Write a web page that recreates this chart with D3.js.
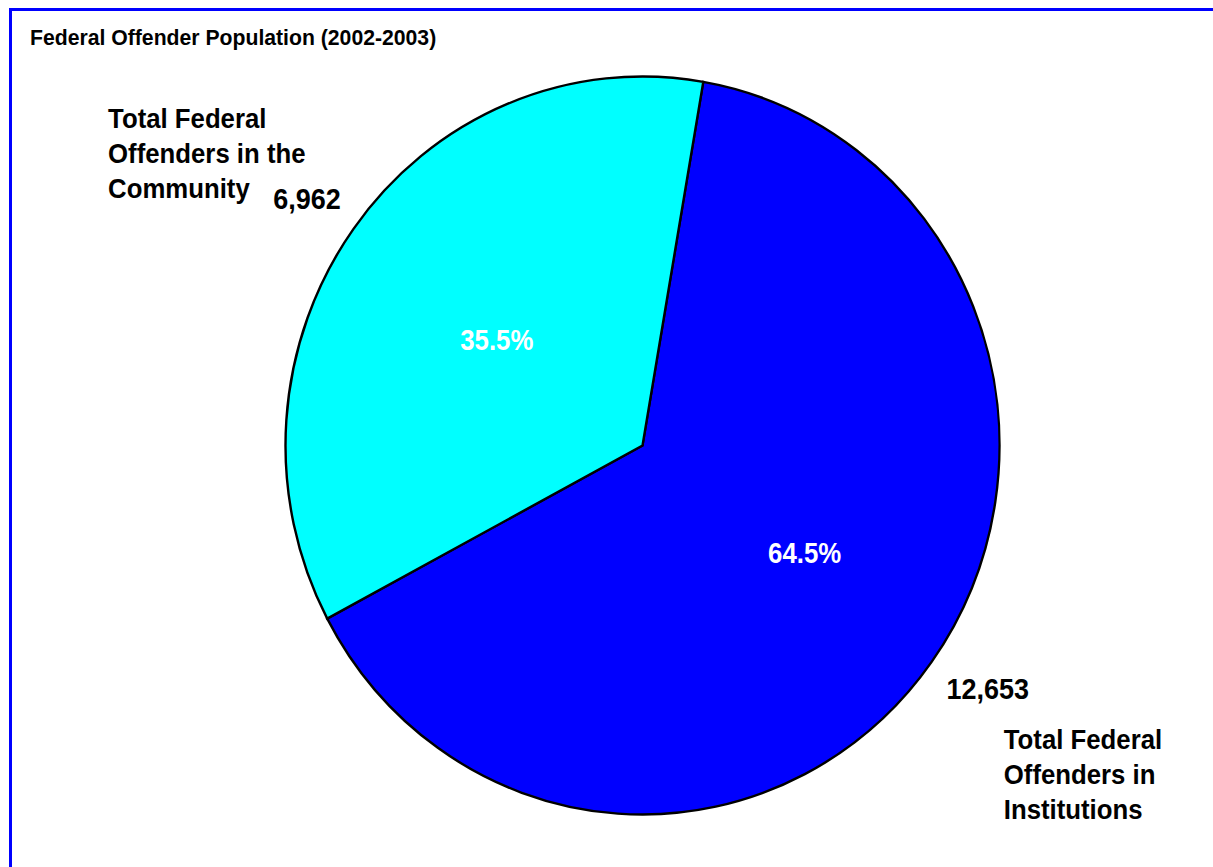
<!DOCTYPE html>
<html>
<head>
<meta charset="utf-8">
<script src="https://cdn.jsdelivr.net/npm/d3@7"></script>
<style>
  html, body { margin: 0; padding: 0; background: #fff; overflow: hidden; }
  text { font-family: "Liberation Sans", Arial, sans-serif; font-weight: bold; }
</style>
</head>
<body>
<svg id="chart" width="1213" height="867"></svg>
<script>
// ---- data ----
const title = "Federal Offender Population (2002-2003)";
const categories = ["Total Federal Offenders in Institutions", "Total Federal Offenders in the Community"];
const categoryLines = [
  ["Total Federal", "Offenders in", "Institutions"],
  ["Total Federal", "Offenders in the", "Community"]
];
const values = [12653, 6962];
const sliceColors = ["#0000ff", "#00ffff"];

// ---- layout ----
const W = 1213, H = 867;
const cx = 642.5, cy = 445.5;
const r = 357;            // horizontal radius
const yScale = 369 / 357; // pie is drawn slightly taller than wide
const startDeg = 9.8;
const pctRadius = [0.54, 0.49];
const pctNudge = [[6, -10], [-4, 0]];
const valueRadius = [1.17, 1.16];
const valueNudge = [[7, -11], [0, 4]];
// category-name block offsets from each value label (left x, first baseline)
const nameOffset = [[16, 50], [-199, -81]];
const lineGap = 35;

const svg = d3.select("#chart");
svg.append("rect").attr("width", W).attr("height", H).attr("fill", "#fff");

// outer frame
svg.append("rect")
  .attr("x", 10.5).attr("y", 9.5)
  .attr("width", W + 20).attr("height", H + 20)
  .attr("fill", "none").attr("stroke", "#0000ff").attr("stroke-width", 3);

// title
svg.append("text")
  .attr("x", 30).attr("y", 45)
  .attr("font-size", 21.2)
  .attr("fill", "#000")
  .text(title);

const total = d3.sum(values);
const start = startDeg * Math.PI / 180;
const pie = d3.pie().sort(null).value(d => d)
  .startAngle(start).endAngle(start + 2 * Math.PI);
const arcs = pie(values);
const arc = d3.arc().innerRadius(0).outerRadius(r);

const g = svg.append("g")
  .attr("transform", `translate(${cx},${cy}) scale(1,${yScale})`);

g.selectAll("path.slice")
  .data(arcs)
  .join("path")
  .attr("class", "slice")
  .attr("d", arc)
  .attr("fill", (d, i) => sliceColors[i])
  .attr("stroke", "#000")
  .attr("stroke-width", 2.4)
  .attr("stroke-linejoin", "miter")
  .attr("vector-effect", "non-scaling-stroke");

// point on the (elliptical) pie at a given angle and radius fraction
function at(angle, frac) {
  return [cx + Math.sin(angle) * r * frac, cy - Math.cos(angle) * r * frac * yScale];
}
function condensed(sel, x, y, sx, anchor) {
  sel.attr("transform", `translate(${x},${y}) scale(${sx},1)`)
     .attr("text-anchor", anchor);
  return sel;
}

const fmtPct = d3.format(".1%");
const fmtNum = d3.format(",");

arcs.forEach((d, i) => {
  const mid = (d.startAngle + d.endAngle) / 2;

  // percentage inside slice
  const [px, py] = at(mid, pctRadius[i]);
  condensed(svg.append("text"), px + pctNudge[i][0], py + pctNudge[i][1] + 10.5, 0.86, "middle")
    .attr("font-size", 30)
    .attr("fill", "#fff")
    .text(fmtPct(d.data / total));

  // value outside slice
  const [vx0, vy0] = at(mid, valueRadius[i]);
  const vx = vx0 + valueNudge[i][0];
  const vb = vy0 + valueNudge[i][1] + 10.8;
  condensed(svg.append("text"), vx, vb, 0.9, "middle")
    .attr("font-size", 30)
    .attr("fill", "#000")
    .text(fmtNum(d.data));

  // category name
  categoryLines[i].forEach((line, k) => {
    condensed(svg.append("text"), vx + nameOffset[i][0], vb + nameOffset[i][1] + k * lineGap, 0.92, "start")
      .attr("font-size", 28)
      .attr("fill", "#000")
      .text(line);
  });
});
</script>
</body>
</html>
